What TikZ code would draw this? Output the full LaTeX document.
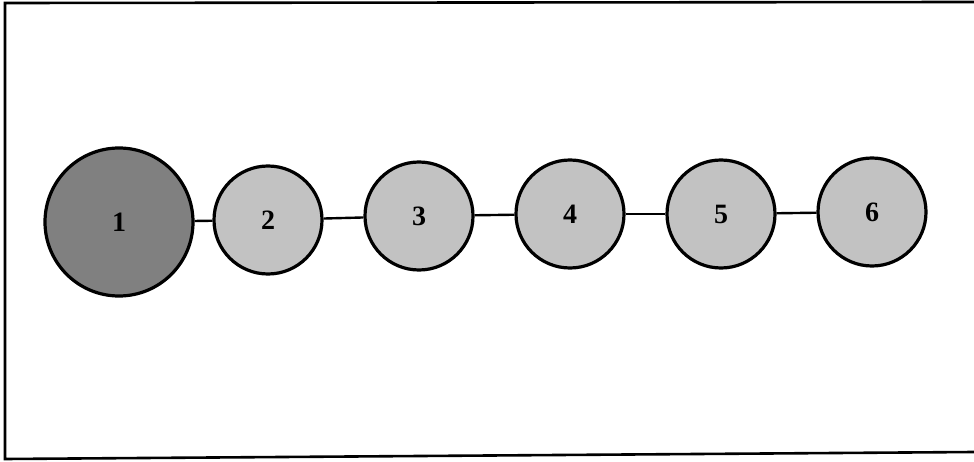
\documentclass[tikz,border=0pt]{standalone}
\usepackage{fontspec}
\setmainfont{Liberation Serif}
\begin{document}
\begin{tikzpicture}[x=1pt,y=-1pt,
  bignode/.style={circle,draw=black,line width=3.2pt,fill=black!50,minimum size=148pt,inner sep=0pt,font=\fontsize{28}{28}\selectfont\bfseries},
  smallnode/.style={circle,draw=black,line width=3.2pt,fill=black!24,minimum size=108pt,inner sep=0pt,font=\fontsize{28}{28}\selectfont\bfseries},
  link/.style={draw=black,line width=2.4pt}]
\useasboundingbox (0,0) rectangle (974,462);
\draw[line width=2.6pt] (974,2) -- (5,3) -- (5,459) -- (974,452);
\node[bignode] (n1) at (119,222) {1};
\node[smallnode] (n2) at (268,220) {2};
\node[smallnode] (n3) at (419,216) {3};
\node[smallnode] (n4) at (570,214) {4};
\node[smallnode] (n5) at (721,214) {5};
\node[smallnode] (n6) at (872,212) {6};
\draw[link] (n1) -- (n2);
\draw[link] (n2) -- (n3);
\draw[link] (n3) -- (n4);
\draw[link] (n4) -- (n5);
\draw[link] (n5) -- (n6);
\end{tikzpicture}
\end{document}
